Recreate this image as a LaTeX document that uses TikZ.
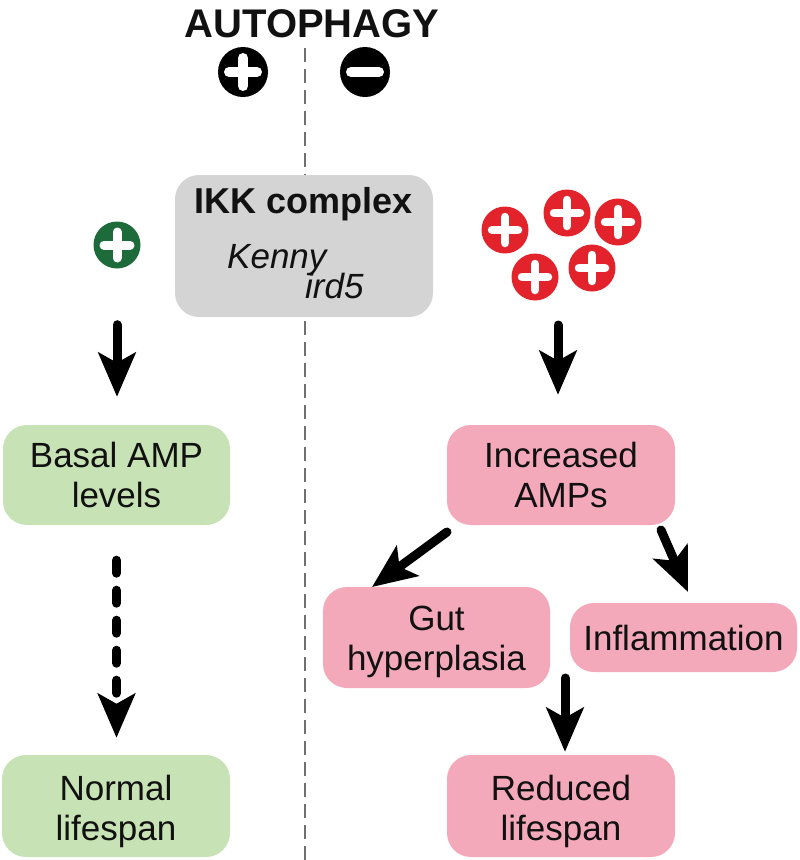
\documentclass[tikz,border=0pt]{standalone}
\usepackage{fontspec}
\setmainfont{Liberation Sans}
\usetikzlibrary{arrows.meta}
\definecolor{boxgreen}{HTML}{C7E3B5}
\definecolor{boxpink}{HTML}{F4A9BB}
\definecolor{boxgray}{HTML}{D4D4D4}
\definecolor{plusgreen}{HTML}{1D6B3B}
\definecolor{plusred}{HTML}{E3232B}
\definecolor{sepgray}{HTML}{707070}
\definecolor{ink}{HTML}{111111}
\newcommand\plusbars[3]{%
  \draw[white,line width=#3,line cap=round]
    ([xshift=-#2]#1.center) -- ([xshift=#2]#1.center)
    ([yshift=-#2]#1.center) -- ([yshift=#2]#1.center);}
\newcommand\minusbar[3]{%
  \draw[white,line width=#3,line cap=round]
    ([xshift=-#2]#1.center) -- ([xshift=#2]#1.center);}
\begin{document}
\begin{tikzpicture}[x=1pt,y=-1pt,
  txt/.style={text=ink,inner sep=0pt,anchor=base,font=\fontsize{35}{40}\selectfont},
  rbox/.style={rounded corners=24pt,inner sep=0pt,draw=none},
  pc/.style={circle,fill=#1,inner sep=0pt,minimum size=47pt,draw=none},
  arr/.style={line width=9pt,line cap=round,draw=black,
    -{Stealth[length=44pt,width=37pt,inset=10pt]}},
  darr/.style={arr,dash pattern=on 13pt off 17pt},
  sep/.style={draw=sepgray,line width=2pt,dash pattern=on 14pt off 7pt}
]
\useasboundingbox (0,0) rectangle (800,860);
% separator
\coordinate (septop) at (305,48);
\coordinate (sepbot) at (305,860);
\draw[sep] (septop) -- (sepbot);
% title
\node[txt,font=\fontsize{40}{44}\selectfont\bfseries] (title) at (312,37) {AUTOPHAGY};
\node[pc=black,minimum size=50pt] (bplus) at (243,72) {};
\plusbars{bplus}{14pt}{10pt}
\node[pc=black,minimum size=50pt] (bminus) at (365,72) {};
\minusbar{bminus}{14pt}{10pt}
% IKK box
\node[rbox,fill=boxgray,minimum width=258pt,minimum height=142pt] (ikk) at (304,246) {};
\node[txt,font=\fontsize{36}{40}\selectfont\bfseries] (ikkT) at (304,213) {IKK complex};
\node[txt,anchor=base west,font=\fontsize{35}{40}\selectfont\itshape] (kenny) at (227,268) {Kenny};
\node[txt,anchor=base west,font=\fontsize{35}{40}\selectfont\itshape] (ird) at (305,298) {ird5};
% green plus
\node[pc=plusgreen] (gplus) at (117,245) {};
\plusbars{gplus}{13pt}{9pt}
% red pluses
\node[pc=plusred] (r1) at (505,230) {};
\node[pc=plusred] (r2) at (567,213) {};
\node[pc=plusred] (r3) at (618,222) {};
\node[pc=plusred] (r4) at (535,277) {};
\node[pc=plusred] (r5) at (592,268) {};
\foreach \n in {r1,r2,r3,r4,r5}{\plusbars{\n}{13pt}{8.5pt}}
% left column boxes
\node[rbox,fill=boxgreen,minimum width=227pt,minimum height=100pt] (basal) at (116.5,475) {};
\node[txt] (basal1) at (116.5,467.5) {Basal AMP};
\node[txt] (basal2) at (116.5,507.5) {levels};
\node[rbox,fill=boxgreen,minimum width=228pt,minimum height=102pt] (normal) at (116,806) {};
\node[txt] (normal1) at (116,800) {Normal};
\node[txt] (normal2) at (116,840) {lifespan};
% right column boxes
\node[rbox,fill=boxpink,minimum width=228pt,minimum height=100pt] (incr) at (561,475) {};
\node[txt] (incr1) at (561,467.5) {Increased};
\node[txt] (incr2) at (561,507.5) {AMPs};
\node[rbox,fill=boxpink,minimum width=227pt,minimum height=101pt] (gut) at (436.5,637.5) {};
\node[txt] (gut1) at (436.5,630) {Gut};
\node[txt] (gut2) at (436.5,670) {hyperplasia};
\node[rbox,fill=boxpink,minimum width=227pt,minimum height=69pt] (infl) at (683.5,637.5) {};
\node[txt] (infl1) at (683.5,650) {Inflammation};
\node[rbox,fill=boxpink,minimum width=228pt,minimum height=102pt] (red) at (561,806) {};
\node[txt] (red1) at (561,800) {Reduced};
\node[txt] (red2) at (561,840) {lifespan};
% arrows
\draw[arr,shorten <=56pt,shorten >=28pt] (gplus.south) -- (basal.north -| gplus.south);
\coordinate (redsrc) at (558,300);
\draw[arr,shorten <=25pt,shorten >=30pt] (redsrc) -- (redsrc |- incr.north);
\draw[darr,shorten <=35pt,shorten >=17pt] (basal.south) -- (basal.south |- normal.north);
\coordinate (gutA) at (447,532);
\coordinate (gutB) at (372,587);
\draw[arr] (gutA) -- (gutB);
\coordinate (inflA) at (661,530);
\coordinate (inflB) at (688,592);
\draw[arr] (inflA) -- (inflB);
\coordinate (redA) at (565,678);
\draw[arr,shorten >=3pt] (redA) -- (redA |- red.north);
\end{tikzpicture}
\end{document}
